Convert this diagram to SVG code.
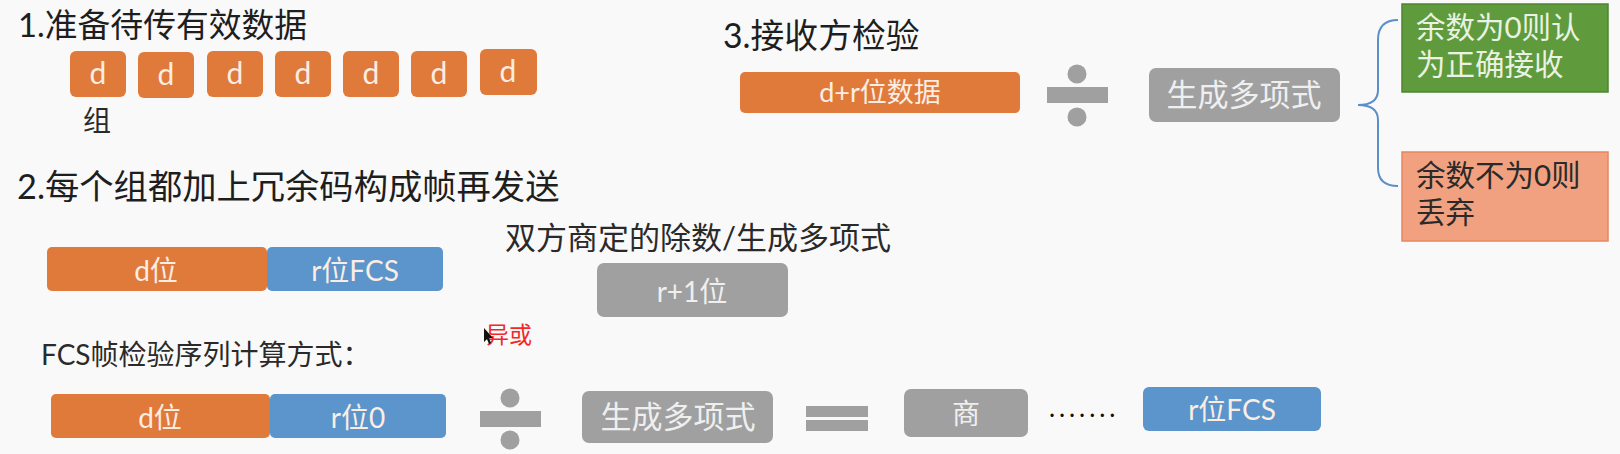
<svg xmlns="http://www.w3.org/2000/svg" width="1620" height="454" viewBox="0 0 1620 454">
<defs>
<style>
text{font-family:Lato,"Noto Sans CJK SC",sans-serif}
.title{fill:#1e1e1e}
.or{fill:#E07A3B}
.bl{fill:#5B95CC}
.gr{fill:#A0A0A0}
.wt{fill:#FBEDE3;text-anchor:middle}
.gt{fill:#EFEFEF;text-anchor:middle}
.dk{fill:#2a2a2a}
</style>
</defs>
<rect x="0" y="0" width="1620" height="454" fill="#F9F9F9"/>

<g id="title1"><text class="title" x="18" y="37" font-size="32.8">1.准备待传有效数据</text></g>
<g id="groups">
<g id="d1"><rect class="or" x="70" y="51" width="56" height="46" rx="6"/><text class="wt" x="98" y="84" font-size="30">d</text></g>
<g id="d2"><rect class="or" x="138" y="52" width="56" height="46" rx="6"/><text class="wt" x="166" y="85" font-size="30">d</text></g>
<g id="d3"><rect class="or" x="207" y="51" width="56" height="46" rx="6"/><text class="wt" x="235" y="84" font-size="30">d</text></g>
<g id="d4"><rect class="or" x="275" y="51" width="56" height="46" rx="6"/><text class="wt" x="303" y="84" font-size="30">d</text></g>
<g id="d5"><rect class="or" x="343" y="51" width="56" height="46" rx="6"/><text class="wt" x="371" y="84" font-size="30">d</text></g>
<g id="d6"><rect class="or" x="411" y="51" width="56" height="46" rx="6"/><text class="wt" x="439" y="84" font-size="30">d</text></g>
<g id="d7"><rect class="or" x="480" y="49" width="57" height="46" rx="6"/><text class="wt" x="508" y="82" font-size="30">d</text></g>
</g>
<g id="zu"><text class="dk" x="83" y="131" font-size="28">组</text></g>

<g id="title3"><text class="title" x="723" y="48" font-size="33.8">3.接收方检验</text></g>
<g id="recv-data"><rect class="or" x="740" y="72" width="280" height="41" rx="5"/><text class="wt" x="880" y="102" font-size="27">d+r位数据</text></g>
<g id="div1" class="gr"><circle cx="1077" cy="74" r="9.5"/><rect x="1047" y="87" width="61" height="16"/><circle cx="1077" cy="117" r="9.5"/></g>
<g id="poly1"><rect class="gr" x="1149" y="68" width="191" height="54" rx="7"/><text class="gt" x="1244" y="106" font-size="31">生成多项式</text></g>

<g id="connectors"><path d="M1398,20 Q1378,20 1378,40 L1378,90 Q1378,105 1358,105 Q1378,105 1378,120 L1378,168 Q1378,186 1398,186" fill="none" stroke="#5B8FC9" stroke-width="2"/></g>

<g id="ok"><rect x="1402" y="4" width="206" height="88" fill="#5F9B3C" stroke="#4E8530" stroke-width="1.5"/><text x="1416" y="38" font-size="29.5" fill="#EAF2E3">余数为0则认</text><text x="1416" y="75" font-size="29.5" fill="#EAF2E3">为正确接收</text></g>
<g id="bad"><rect x="1402" y="152" width="206" height="89" fill="#F1A180" stroke="#E8875F" stroke-width="1.5"/><text class="dk" x="1416" y="186" font-size="29.5">余数不为0则</text><text class="dk" x="1416" y="223" font-size="29.5">丢弃</text></g>

<g id="title2"><text class="title" x="17" y="199" font-size="34.3">2.每个组都加上冗余码构成帧再发送</text></g>
<g id="frame-d"><rect class="or" x="47" y="247" width="220" height="44" rx="5"/><text class="wt" x="156" y="281" font-size="28">d位</text></g>
<g id="frame-fcs"><rect class="bl" x="267" y="247" width="176" height="44" rx="5"/><text class="wt" x="355" y="281" font-size="28">r位FCS</text></g>
<g id="divisor-label"><text class="dk" x="505" y="249" font-size="31">双方商定的除数/生成多项式</text></g>
<g id="divisor"><rect class="gr" x="597" y="263" width="191" height="54" rx="7"/><text class="gt" x="692" y="302" font-size="28">r+1位</text></g>
<g id="xor"><text x="486" y="343" font-size="23" fill="#F22828">异或</text><polygon points="484,328 484,342 487,339 489,344 491,343 489,338 493,338" fill="#111"/></g>

<g id="fcs-label"><text class="dk" x="41" y="365" font-size="28">FCS帧检验序列计算方式：</text></g>
<g id="calc-d"><rect class="or" x="51" y="394" width="219" height="44" rx="5"/><text class="wt" x="160" y="428" font-size="28">d位</text></g>
<g id="calc-r0"><rect class="bl" x="270" y="394" width="176" height="44" rx="5"/><text class="wt" x="358" y="428" font-size="28">r位0</text></g>
<g id="div2" class="gr"><circle cx="510" cy="398" r="9.5"/><rect x="480" y="411" width="61" height="16"/><circle cx="510" cy="440" r="9.5"/></g>
<g id="poly2"><rect class="gr" x="582" y="391" width="191" height="52" rx="7"/><text class="gt" x="678" y="428" font-size="31">生成多项式</text></g>
<g id="eq" class="gr"><rect x="806" y="406" width="62" height="11"/><rect x="806" y="420" width="62" height="11"/></g>
<g id="quot"><rect class="gr" x="904" y="389" width="124" height="48" rx="7"/><text class="gt" x="966" y="424" font-size="28">商</text></g>
<g id="dots"><text x="1049" y="417" font-size="26" fill="#111" letter-spacing="3.9">.......</text></g>
<g id="result"><rect class="bl" x="1143" y="387" width="178" height="44" rx="6"/><text class="wt" x="1232" y="420" font-size="28">r位FCS</text></g>
</svg>
